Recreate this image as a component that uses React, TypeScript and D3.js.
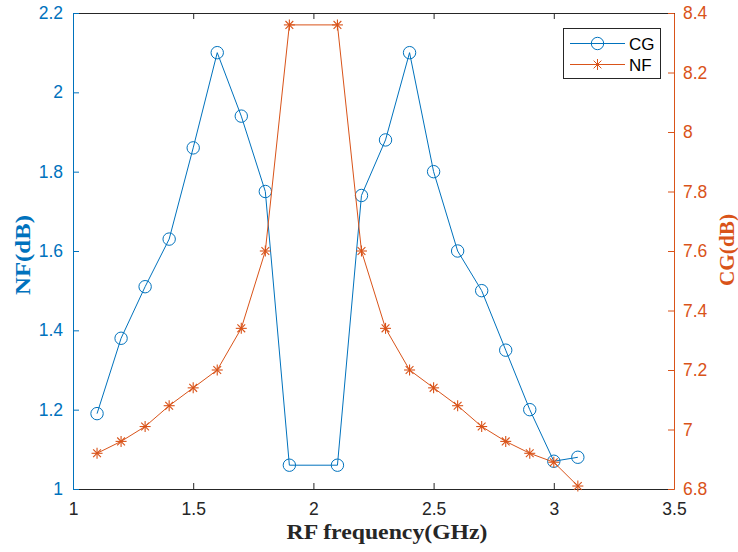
import React, { useEffect, useRef } from 'react';
import * as d3 from 'd3';

// RF frequency (GHz)
const freqs = [1.1, 1.2, 1.3, 1.4, 1.5, 1.6, 1.7, 1.8, 1.9, 2.1, 2.2, 2.3, 2.4, 2.5, 2.6, 2.7, 2.8, 2.9, 3.0, 3.1];
// blue series (left axis)
const cgValues = [1.19, 1.38, 1.51, 1.63, 1.86, 2.1, 1.94, 1.75, 1.06, 1.06, 1.74, 1.88, 2.1, 1.8, 1.6, 1.5, 1.35, 1.2, 1.07, 1.08];
// orange series (right axis)
const nfValues = [6.92, 6.96, 7.01, 7.08, 7.14, 7.2, 7.34, 7.6, 8.36, 8.36, 7.6, 7.34, 7.2, 7.14, 7.08, 7.01, 6.96, 6.92, 6.89, 6.81];

const xTicks = [1, 1.5, 2, 2.5, 3, 3.5];
const leftTicks = [1, 1.2, 1.4, 1.6, 1.8, 2, 2.2];
const rightTicks = [6.8, 7, 7.2, 7.4, 7.6, 7.8, 8, 8.2, 8.4];

const BLUE = '#0072BD';
const ORANGE = '#D95319';
const DARK = '#262626';

const App = () => {
  const svgRef = useRef<SVGSVGElement>(null);
  const width = 738;
  const height = 552;
  const margin = { top: 13, right: 64, bottom: 63, left: 73 };

  useEffect(() => {
    const svg = d3.select(svgRef.current);
    svg.selectAll('*').remove();

    const x = d3.scaleLinear().domain([1, 3.5]).range([margin.left, width - margin.right]);
    const yL = d3.scaleLinear().domain([1, 2.2]).range([height - margin.bottom, margin.top]);
    const yR = d3.scaleLinear().domain([6.8, 8.4]).range([height - margin.bottom, margin.top]);

    const x0 = margin.left, x1 = width - margin.right;
    const y0 = height - margin.bottom, y1 = margin.top;
    const font = 'Liberation Sans, Arial, sans-serif';
    const serif = 'Liberation Serif, Times New Roman, serif';
    const tickFont = 17.5;

    svg.append('rect').attr('x', 0).attr('y', 0).attr('width', width).attr('height', height).attr('fill', '#fff');

    // bottom + top axes
    const bottom = svg.append('g').attr('transform', `translate(0,${y0})`)
      .call(d3.axisBottom(x).tickValues(xTicks).tickSizeInner(-6).tickSizeOuter(0).tickPadding(14).tickFormat(d3.format('')));
    bottom.select('.domain').attr('stroke', DARK);
    bottom.selectAll('line').attr('stroke', DARK);
    bottom.selectAll('text').attr('fill', DARK).attr('font-family', font).attr('font-size', tickFont);

    const top = svg.append('g').attr('transform', `translate(0,${y1})`)
      .call(d3.axisTop(x).tickValues(xTicks).tickSizeInner(-6).tickSizeOuter(0).tickFormat(() => ''));
    top.select('.domain').attr('stroke', DARK);
    top.selectAll('line').attr('stroke', DARK);

    // left axis
    const left = svg.append('g').attr('transform', `translate(${x0},0)`)
      .call(d3.axisLeft(yL).tickValues(leftTicks).tickSizeInner(-6).tickSizeOuter(0).tickPadding(10).tickFormat(d3.format('')));
    left.select('.domain').attr('stroke', BLUE);
    left.selectAll('line').attr('stroke', BLUE);
    left.selectAll('text').attr('fill', BLUE).attr('font-family', font).attr('font-size', tickFont);

    // right axis
    const right = svg.append('g').attr('transform', `translate(${x1},0)`)
      .call(d3.axisRight(yR).tickValues(rightTicks).tickSizeInner(-6).tickSizeOuter(0).tickPadding(9).tickFormat(d3.format('')));
    right.select('.domain').attr('stroke', ORANGE);
    right.selectAll('line').attr('stroke', ORANGE);
    right.selectAll('text').attr('fill', ORANGE).attr('font-family', font).attr('font-size', tickFont);

    // axis labels (MATLAB export renders them wide, hence textLength)
    svg.append('text')
      .attr('x', 387)
      .attr('y', 539)
      .attr('text-anchor', 'middle')
      .attr('font-family', serif)
      .attr('font-weight', 'bold')
      .attr('font-size', 20)
      .attr('textLength', 201)
      .attr('lengthAdjust', 'spacingAndGlyphs')
      .attr('fill', DARK)
      .text('RF frequency(GHz)');

    svg.append('text')
      .attr('transform', 'rotate(-90)')
      .attr('x', -255)
      .attr('y', 30)
      .attr('text-anchor', 'middle')
      .attr('font-family', serif)
      .attr('font-weight', 'bold')
      .attr('font-size', 20)
      .attr('textLength', 80)
      .attr('lengthAdjust', 'spacingAndGlyphs')
      .attr('fill', BLUE)
      .text('NF(dB)');

    svg.append('text')
      .attr('transform', 'rotate(-90)')
      .attr('x', -250)
      .attr('y', 734)
      .attr('text-anchor', 'middle')
      .attr('font-family', serif)
      .attr('font-weight', 'bold')
      .attr('font-size', 20)
      .attr('textLength', 72)
      .attr('lengthAdjust', 'spacingAndGlyphs')
      .attr('fill', ORANGE)
      .text('CG(dB)');

    // blue line + circles
    const blueLine = d3.line<number>().x((_, i) => x(freqs[i])).y(d => yL(d));
    svg.append('path').datum(cgValues).attr('d', blueLine).attr('fill', 'none').attr('stroke', BLUE).attr('stroke-width', 1);
    svg.append('g').selectAll('circle').data(cgValues).enter().append('circle')
      .attr('cx', (_, i) => x(freqs[i]))
      .attr('cy', d => yL(d))
      .attr('r', 6.2)
      .attr('fill', 'none')
      .attr('stroke', BLUE)
      .attr('stroke-width', 1);

    // orange line + asterisks
    const star = (g: any, s: number) => {
      const a = s * 0.7071;
      g.append('line').attr('x1', -s).attr('y1', 0).attr('x2', s).attr('y2', 0);
      g.append('line').attr('x1', 0).attr('y1', -s).attr('x2', 0).attr('y2', s);
      g.append('line').attr('x1', -a).attr('y1', -a).attr('x2', a).attr('y2', a);
      g.append('line').attr('x1', -a).attr('y1', a).attr('x2', a).attr('y2', -a);
    };
    const orangeLine = d3.line<number>().x((_, i) => x(freqs[i])).y(d => yR(d));
    svg.append('path').datum(nfValues).attr('d', orangeLine).attr('fill', 'none').attr('stroke', ORANGE).attr('stroke-width', 1);
    nfValues.forEach((d, i) => {
      const g = svg.append('g')
        .attr('transform', `translate(${x(freqs[i])},${yR(d)})`)
        .attr('stroke', ORANGE)
        .attr('stroke-width', 1.1);
      star(g, 5.5);
    });

    // legend
    const lg = svg.append('g');
    lg.append('rect').attr('x', 563.5).attr('y', 28.5).attr('width', 97).attr('height', 50)
      .attr('fill', '#fff').attr('stroke', DARK).attr('stroke-width', 1);
    const items = [
      { label: 'CG', color: BLUE, y: 43.5, marker: 'o' },
      { label: 'NF', color: ORANGE, y: 64.5, marker: '*' },
    ];
    items.forEach(it => {
      lg.append('line').attr('x1', 570).attr('x2', 625).attr('y1', it.y).attr('y2', it.y)
        .attr('stroke', it.color).attr('stroke-width', 1);
      if (it.marker === 'o') {
        lg.append('circle').attr('cx', 597.5).attr('cy', it.y).attr('r', 6.2)
          .attr('fill', 'none').attr('stroke', it.color);
      } else {
        const g = lg.append('g').attr('transform', `translate(597.5,${it.y})`).attr('stroke', it.color);
        star(g, 5.5);
      }
      lg.append('text').attr('x', 629).attr('y', it.y + 6)
        .attr('font-family', font).attr('font-size', 17).attr('fill', '#000')
        .text(it.label);
    });
  }, []);

  return (
    <svg ref={svgRef} width={width} height={height} style={{ display: 'block', position: 'absolute', left: 0, top: 0 }}></svg>
  );
};

export default App;
